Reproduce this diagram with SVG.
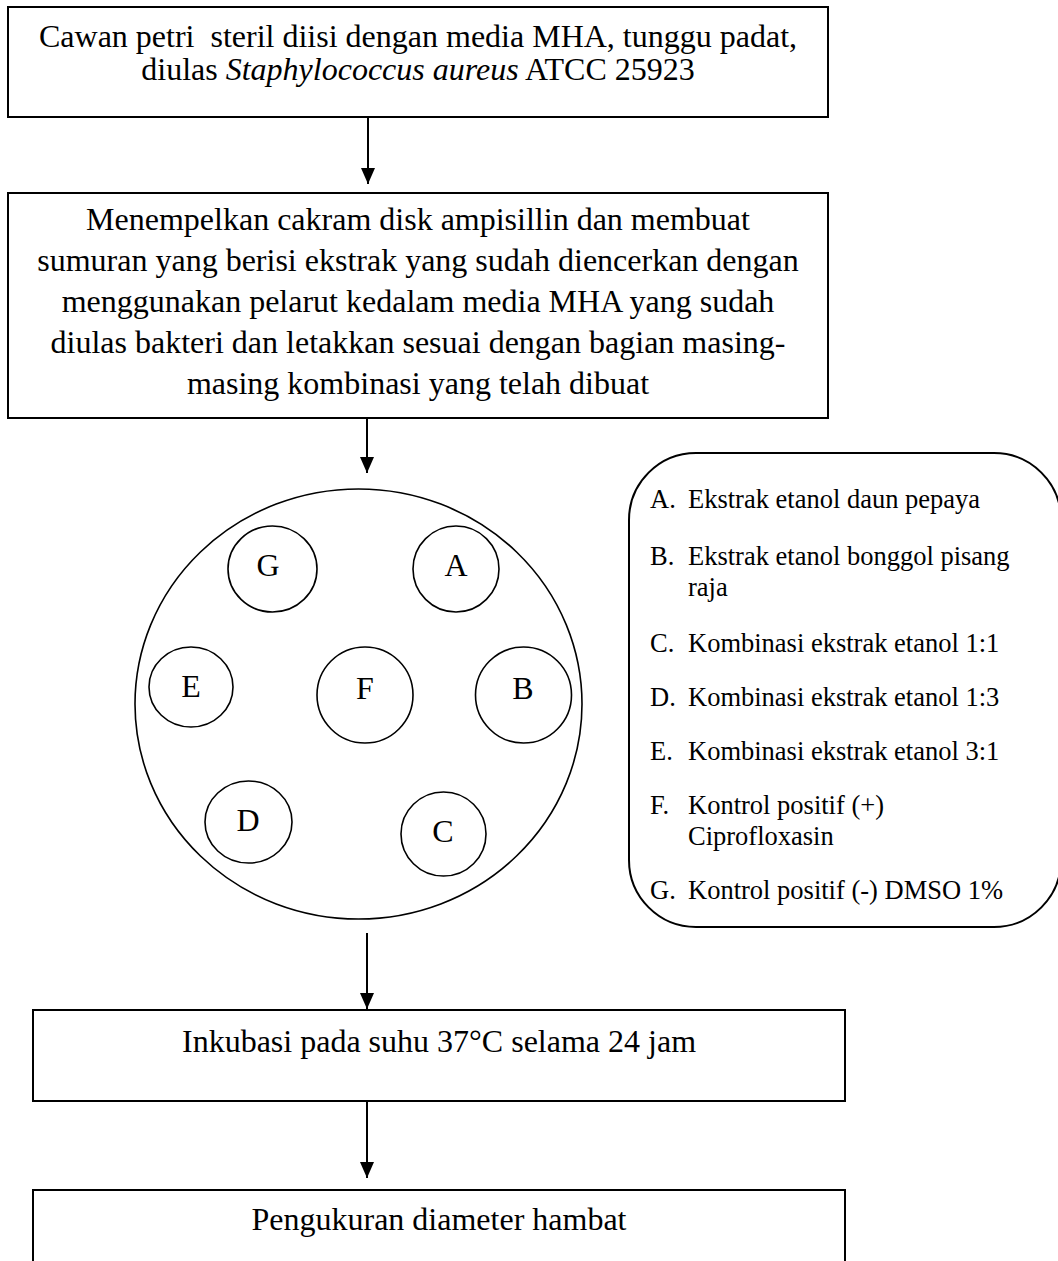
<svg xmlns="http://www.w3.org/2000/svg" width="1058" height="1261" viewBox="0 0 1058 1261">
<style>
.box{fill:#fff;stroke:#000;stroke-width:2}
.t{font-family:"Liberation Serif","Times New Roman",serif;font-size:32px;fill:#000;text-anchor:middle}
.lg{font-family:"Liberation Serif","Times New Roman",serif;font-size:26.5px;fill:#000}
.c{fill:none;stroke:#000;stroke-width:1.6}
.arr{stroke:#000;stroke-width:2;fill:none;marker-end:url(#ah)}
</style>
<defs>
<marker id="ah" markerUnits="userSpaceOnUse" markerWidth="16" markerHeight="16" viewBox="0 0 16 16" refX="16" refY="8" orient="auto">
<path d="M0,1 L16,8 L0,15 Z" fill="#000"/>
</marker>
</defs>
<rect width="1058" height="1261" fill="#fff"/>
<g id="connectors">
<line class="arr" x1="368" y1="117" x2="368" y2="184"/>
<line class="arr" x1="367" y1="418" x2="367" y2="473"/>
<line class="arr" x1="367" y1="933" x2="367" y2="1009"/>
<line class="arr" x1="367" y1="1101" x2="367" y2="1178"/>
</g>
<g id="step1">
<rect class="box" x="8" y="7" width="820" height="110"/>
<text class="t" x="418" y="47" style="white-space:pre">Cawan petri  steril diisi dengan media MHA, tunggu padat,</text>
<text class="t" x="418" y="80">diulas <tspan font-style="italic">Staphylococcus aureus</tspan> ATCC 25923</text>
</g>
<g id="step2">
<rect class="box" x="8" y="193" width="820" height="225"/>
<text class="t" x="418" y="230">Menempelkan cakram disk ampisillin dan membuat</text>
<text class="t" x="418" y="271">sumuran yang berisi ekstrak yang sudah diencerkan dengan</text>
<text class="t" x="418" y="312">menggunakan pelarut kedalam media MHA yang sudah</text>
<text class="t" x="418" y="353">diulas bakteri dan letakkan sesuai dengan bagian masing-</text>
<text class="t" x="418" y="394">masing kombinasi yang telah dibuat</text>
</g>
<g id="plate">
<ellipse class="c" cx="358.5" cy="704" rx="223.5" ry="215"/>
<g id="well-G"><ellipse class="c" cx="272.5" cy="569" rx="44.5" ry="43"/><text class="t" x="268" y="576">G</text></g>
<g id="well-A"><ellipse class="c" cx="456" cy="569" rx="43" ry="43"/><text class="t" x="456" y="576">A</text></g>
<g id="well-E"><ellipse class="c" cx="191" cy="687" rx="42" ry="40"/><text class="t" x="191" y="697">E</text></g>
<g id="well-F"><ellipse class="c" cx="365" cy="695" rx="48" ry="48"/><text class="t" x="365" y="699">F</text></g>
<g id="well-B"><ellipse class="c" cx="523.5" cy="695" rx="48" ry="48"/><text class="t" x="523" y="699">B</text></g>
<g id="well-D"><ellipse class="c" cx="248.5" cy="822" rx="43.5" ry="41"/><text class="t" x="248" y="831">D</text></g>
<g id="well-C"><ellipse class="c" cx="443.5" cy="834" rx="42.5" ry="42"/><text class="t" x="443" y="842">C</text></g>
</g>
<g id="legend">
<rect class="box" x="629" y="453" width="432" height="474" rx="67" ry="67"/>
<text class="lg" x="650" y="508">A.</text><text class="lg" x="688" y="508">Ekstrak etanol daun pepaya</text>
<text class="lg" x="650" y="565">B.</text><text class="lg" x="688" y="565">Ekstrak etanol bonggol pisang</text>
<text class="lg" x="688" y="596">raja</text>
<text class="lg" x="650" y="652">C.</text><text class="lg" x="688" y="652">Kombinasi ekstrak etanol 1:1</text>
<text class="lg" x="650" y="706">D.</text><text class="lg" x="688" y="706">Kombinasi ekstrak etanol 1:3</text>
<text class="lg" x="650" y="760">E.</text><text class="lg" x="688" y="760">Kombinasi ekstrak etanol 3:1</text>
<text class="lg" x="650" y="814">F.</text><text class="lg" x="688" y="814">Kontrol positif (+)</text>
<text class="lg" x="688" y="845">Ciprofloxasin</text>
<text class="lg" x="650" y="899">G.</text><text class="lg" x="688" y="899">Kontrol positif (-) DMSO 1%</text>
</g>
<g id="step3">
<rect class="box" x="33" y="1010" width="812" height="91"/>
<text class="t" x="439" y="1052">Inkubasi pada suhu 37°C selama 24 jam</text>
</g>
<g id="step4">
<rect class="box" x="33" y="1190" width="812" height="90"/>
<text class="t" x="439" y="1230">Pengukuran diameter hambat</text>
</g>
</svg>
